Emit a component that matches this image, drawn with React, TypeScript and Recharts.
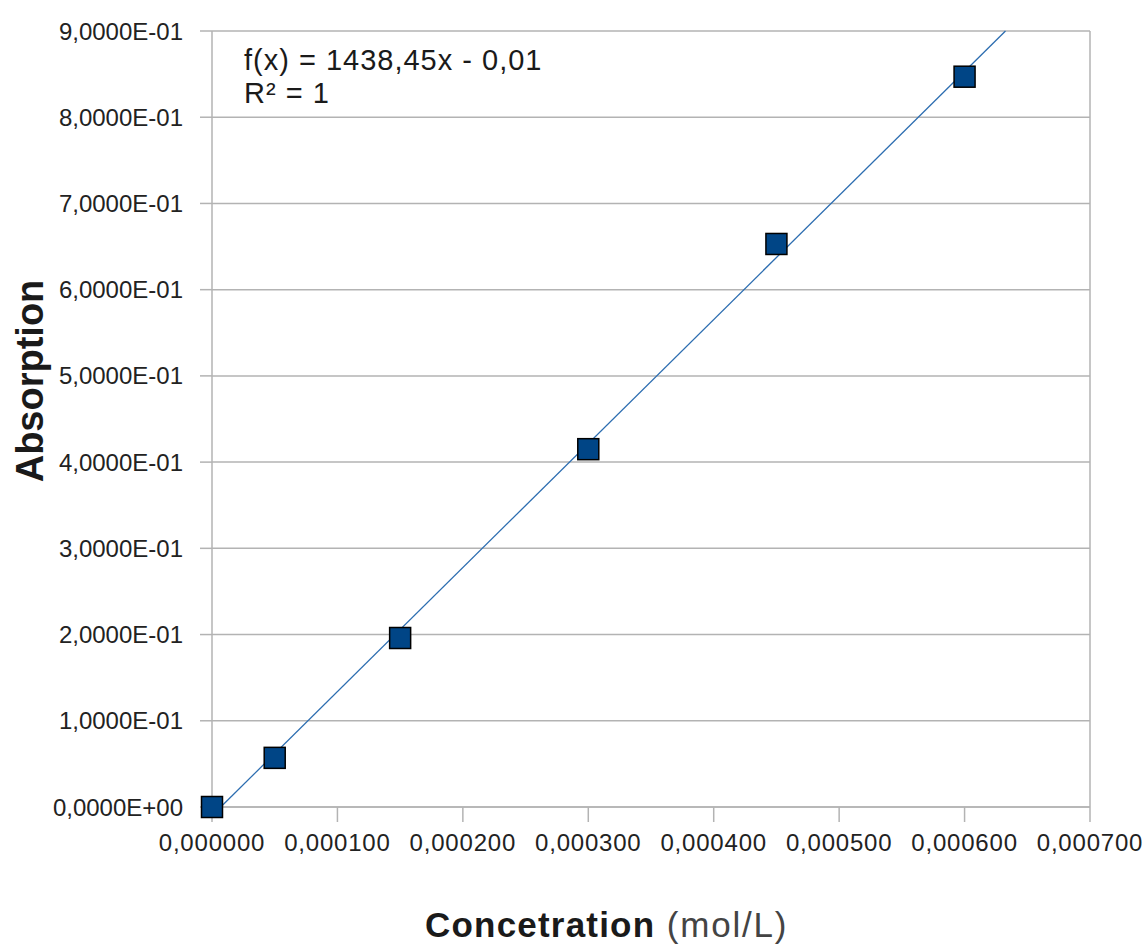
import React from 'react';
import {
    ScatterChart,
    Scatter,
    XAxis,
    YAxis,
    CartesianGrid,
    ReferenceLine,
    Label,
} from 'recharts';

// measured points (concentration in mol/L, absorbance)
const concentrations = [0, 0.00005, 0.00015, 0.0003, 0.00045, 0.0006];
const absorptions = [0, 0.057, 0.196, 0.415, 0.653, 0.847];

// linear fit shown on the chart
const slope = 1438.45;
const intercept = -0.01;

const xTicks = [0, 0.0001, 0.0002, 0.0003, 0.0004, 0.0005, 0.0006, 0.0007];
const yTicks = [0, 0.1, 0.2, 0.3, 0.4, 0.5, 0.6, 0.7, 0.8, 0.9];

const points = concentrations.map((c, i) => ({ x: c, y: absorptions[i] }));

// trend line clipped to the visible range of the y axis
const yMin = yTicks[0];
const yMax = yTicks[yTicks.length - 1];
const trend = [
    { x: (yMin - intercept) / slope, y: yMin },
    { x: (yMax - intercept) / slope, y: yMax },
];

const GRID = '#b3b3b3';
const FONT = '"Liberation Sans", Arial, sans-serif';

const fmtX = (v: number) => v.toFixed(6).replace('.', ',');

const fmtY = (v: number) => {
    if (v === 0) return '0,0000E+00';
    const exp = Math.floor(Math.log10(v) + 1e-9);
    const mant = v / Math.pow(10, exp);
    const sign = exp < 0 ? '-' : '+';
    const e = String(Math.abs(exp)).padStart(2, '0');
    return mant.toFixed(4).replace('.', ',') + 'E' + sign + e;
};

const SquareDot = (props: any) => {
    const { cx, cy } = props;
    if (cx == null || cy == null) return null;
    return (
        <rect x={cx - 10.5} y={cy - 10.5} width={21} height={21} fill="#004586" stroke="#000" strokeWidth={1.5} />
    );
};

export default function App() {
    return (
        <div style={{ position: 'absolute', left: 0, top: 0, width: 1146, height: 947, background: '#fff', fontFamily: FONT }}>
            <ScatterChart width={1146} height={947} margin={{ top: 31, right: 56, bottom: 0, left: 0 }}>
                <CartesianGrid vertical={false} stroke={GRID} strokeWidth={1.5} />
                <XAxis
                    type="number"
                    dataKey="x"
                    domain={[0, 0.0007]}
                    ticks={xTicks}
                    tickFormatter={fmtX}
                    height={140}
                    tickSize={15}
                    tickMargin={12}
                    stroke={GRID}
                    strokeWidth={1.5}
                    tick={{ fill: '#222', fontSize: 24, fontFamily: FONT, letterSpacing: 0.8 }}
                    interval={0}
                >
                    <Label
                        content={() => (
                            <text x={425} y={937} fontFamily={FONT} fontSize={35} fill="#1a1a1a">
                                <tspan fontWeight="bold" letterSpacing={1.2}>Concetration</tspan>
                                <tspan fill="#444" letterSpacing={1.8}> (mol/L)</tspan>
                            </text>
                        )}
                    />
                </XAxis>
                <YAxis
                    type="number"
                    dataKey="y"
                    domain={[0, 0.9]}
                    ticks={yTicks}
                    tickFormatter={fmtY}
                    width={212}
                    tickSize={12}
                    tickMargin={17}
                    stroke={GRID}
                    strokeWidth={1.5}
                    tick={{ fill: '#222', fontSize: 24, fontFamily: FONT }}
                    interval={0}
                >
                    <Label
                        content={() => (
                            <text
                                x={43}
                                y={381}
                                transform="rotate(-90 43 381)"
                                textAnchor="middle"
                                fontFamily={FONT}
                                fontSize={38}
                                fontWeight="bold"
                                fill="#1a1a1a"
                            >
                                Absorption
                            </text>
                        )}
                    />
                </YAxis>
                <ReferenceLine x={0.0007} stroke={GRID} strokeWidth={1.5} />
                <Scatter
                    data={trend}
                    line={{ stroke: '#2c6db0', strokeWidth: 1.3 }}
                    shape={() => null}
                    isAnimationActive={false}
                />
                <Scatter data={points} shape={SquareDot} isAnimationActive={false} />
            </ScatterChart>
            <div
                style={{
                    position: 'absolute',
                    left: 244,
                    top: 44,
                    fontSize: 29,
                    lineHeight: '33px',
                    letterSpacing: 1,
                    color: '#1a1a1a',
                    fontFamily: FONT,
                }}
            >
                <div>f(x) = 1438,45x - 0,01</div>
                <div>R² = 1</div>
            </div>
        </div>
    );
}
